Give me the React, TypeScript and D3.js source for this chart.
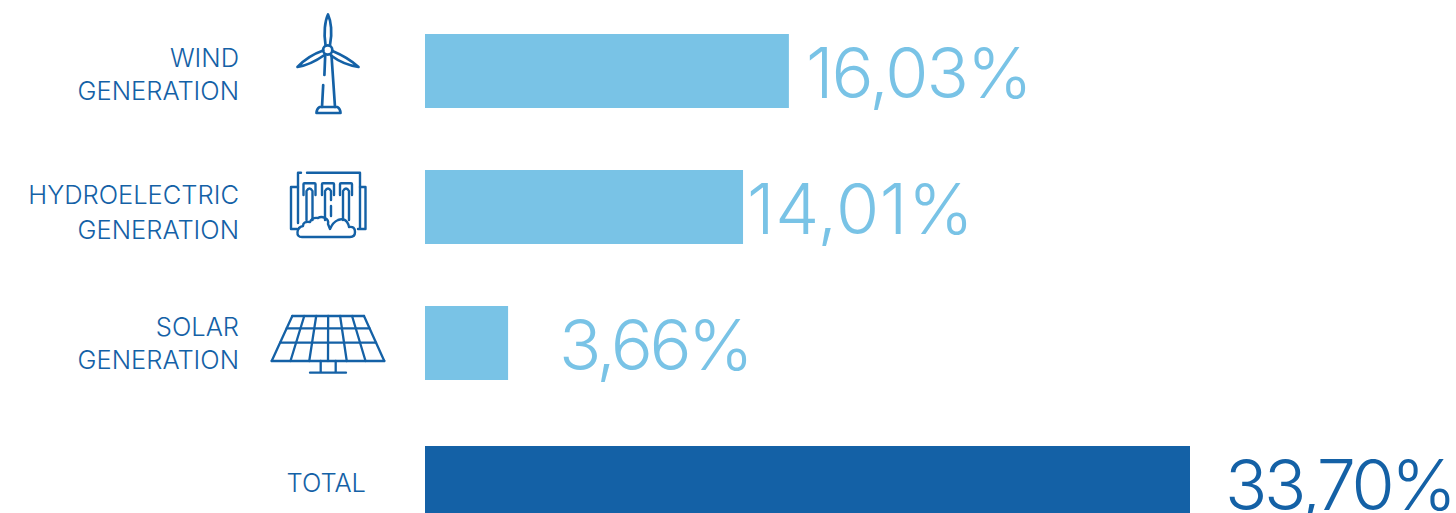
import React from "react";
import * as d3 from "d3";

// Share of generation by renewable source, in percent
const sources = ["wind", "hydro", "solar", "total"];
const shares = [16.03, 14.01, 3.66, 33.7];
const shareLabels = ["16,03%", "14,01%", "3,66%", "33,70%"];
const nameLines = [["WIND", "GENERATION"], ["HYDROELECTRIC", "GENERATION"], ["SOLAR", "GENERATION"], ["TOTAL"]];

// Layout per row
const rowTops = [34, 170, 306, 446];
const valueLabelX = [806, 747, 559, 1225];
const valueTracking = [-2, 0.6, -3.5, -3.4];
const nameAnchorX = [239, 239, 239, 366];
const nameBaselines = [[67, 100], [204, 239], [336, 369], [492]];

const LIGHT = "#79C3E6";
const DARK = "#1461A6";
const BAR_H = 74;
const BASE_X = 425;

const TEXT_FONT = "Inter, 'Liberation Sans', sans-serif";

const x = d3.scaleLinear().domain([0, 33.7]).range([BASE_X, 1190]);

function WindIcon() {
  return (
    <g fill="none" stroke={DARK} strokeWidth={2.7} strokeLinejoin="round" strokeLinecap="round">
      <circle cx={327.7} cy={50} r={4.6} />
      <path d="M325.5,45 C323.5,33 325,21 328,14.5 C331,21 332.5,33 330,45" />
      <path d="M323.2,50.5 C313,54 304,60 297.5,67 C307,65.5 316,61 324.5,55" />
      <path d="M332.5,51 C342,55 352,61 358.5,67 C349,65.5 339,61.5 331,55.5" />
      <path d="M325.2,55.5 L324.4,75" />
      <path d="M323.2,85 L322,107" />
      <path d="M331.5,55.5 L335,107" />
      <path d="M319.5,107 H337.5 Q340.5,109 340.5,113 H316.5 Q316.5,109 319.5,107 Z" />
    </g>
  );
}

function HydroIcon() {
  const gates = [303.5, 322, 340];
  return (
    <g fill="none" stroke={DARK} strokeWidth={2.4} strokeLinejoin="round" strokeLinecap="round">
      <path d="M301,172.7 H298 V223" />
      <path d="M307,172.7 H360 V228" />
      <path d="M298,187 H291 V229 H297" />
      <path d="M360,187 H365.5 V229 H358" />
      {gates.map((gx) => (
        <g key={gx}>
          <path d={`M${gx},195 V184 Q${gx},183.3 ${gx + 1},183.3 H${gx + 11} Q${gx + 12},183.3 ${gx + 12},184 V195`} />
          <path d={`M${gx + 3},220 V191 Q${gx + 6},186 ${gx + 9},191 V${gx === 322 ? 200 : 220}`} />
        </g>
      ))}
      <path d="M331,206 V216" />
      <path d="M303,226 Q303,221 310,222 Q312,217 318,218 Q321,216 325,218 Q329,220 328,224 L330,229 Q333,222 338,220 Q344,218 347,222 Q349,225 349,227 Q355,226 355,232 Q355,237 350,237 H302 Q297,237 297.5,232 Q298,227 303,226 Z" />
    </g>
  );
}

function SolarIcon() {
  const top = { y: 316, l: 292.3, r: 364 };
  const bottom = { y: 361, l: 271.7, r: 384.3 };
  const rows = [0, 0.273, 0.593, 1];
  const cols = d3.range(7).map((i) => i / 6);
  const at = (cx: number, ry: number) => {
    const l = top.l + (bottom.l - top.l) * ry;
    const r = top.r + (bottom.r - top.r) * ry;
    return [l + (r - l) * cx, top.y + (bottom.y - top.y) * ry];
  };
  const line = d3.line();
  return (
    <g fill="none" stroke={DARK} strokeWidth={2.3} strokeLinecap="round" strokeLinejoin="round">
      {rows.map((ry) => <path key={`r${ry}`} d={line([at(0, ry), at(1, ry)] as [number, number][]) as string} />)}
      {cols.map((cx) => <path key={`c${cx}`} d={line([at(cx, 0), at(cx, 1)] as [number, number][]) as string} />)}
      <path d="M320.7,361 V372.7 M335.7,361 V372.7 M310,372.7 H346" />
    </g>
  );
}

export default function App() {
  return (
    <svg
      width={1456}
      height={513}
      viewBox="0 0 1456 513"
      style={{ position: "absolute", left: 0, top: 0, background: "#fff" }}
    >
      <WindIcon />
      <HydroIcon />
      <SolarIcon />
      {sources.map((s, i) => {
        const isTotal = s === "total";
        const top = rowTops[i];
        const color = isTotal ? DARK : LIGHT;
        return (
          <g key={s}>
            <rect x={x(0)} y={top} width={x(shares[i]) - x(0)} height={BAR_H} fill={color} />
            {nameLines[i].map((t, j) => (
              <text
                key={t}
                x={nameAnchorX[i]}
                y={nameBaselines[i][j]}
                textAnchor="end"
                fontFamily={TEXT_FONT}
                fontWeight={300}
                fontSize={25.5}
                letterSpacing={0}
                fill={DARK}
              >
                {t}
              </text>
            ))}
            <text
              x={valueLabelX[i]}
              y={top + 64}
              fontFamily={TEXT_FONT}
              fontWeight={300}
              fontSize={70}
              letterSpacing={valueTracking[i]}
              fill={color}
            >
              {shareLabels[i]}
            </text>
          </g>
        );
      })}
    </svg>
  );
}
